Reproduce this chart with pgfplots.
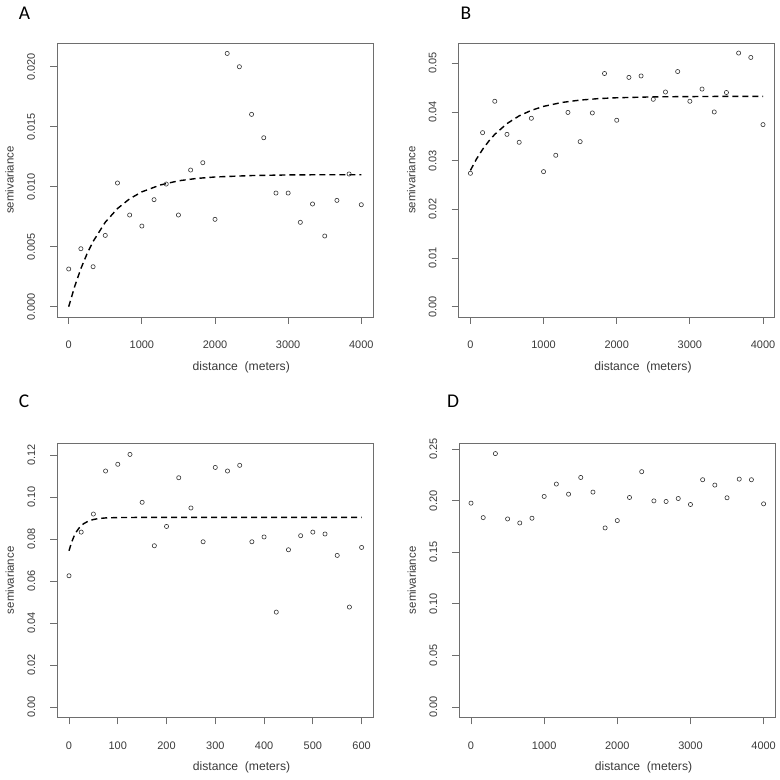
\documentclass[border=0pt]{standalone}
\usepackage{pgfplots}
\pgfplotsset{compat=1.18}
\usepackage{fontspec}
\setmainfont{Liberation Sans}
\newfontfamily\lettfont{Carlito}
\definecolor{framecol}{HTML}{6E6E6E}
\definecolor{txtcol}{HTML}{3A3A3A}
\definecolor{ptcol}{HTML}{333333}
\pgfplotsset{
  vario/.style={
    scale only axis, width=316bp, height=274bp, anchor=south west,
    axis line style={framecol, line width=0.8bp},
    tick style={framecol, line width=0.8bp},
    tick align=outside, major tick length=7bp,
    xtick pos=bottom, ytick pos=left,
    /pgf/number format/assume math mode=true,
    /pgf/number format/1000 sep={},
    tick label style={font=\fontsize{11}{13}\selectfont, text=txtcol},
    xticklabel style={anchor=center, yshift=-21bp},
    yticklabel style={anchor=center, xshift=-19bp, rotate=90},
    xlabel={distance\ \ (meters)},
    ylabel={semivariance},
    every axis x label/.style={at={(axis description cs:0.583,0)}, anchor=center, yshift=-50bp, font=\fontsize{12.2}{14}\selectfont, text=txtcol},
    every axis y label/.style={at={(axis description cs:0,0.5)}, xshift=-47.5bp, rotate=90, anchor=center, font=\fontsize{11.5}{14}\selectfont, text=txtcol},
    scaled ticks=false,
    clip=false,
  },
  ptsty/.style={only marks, mark=o, mark size=2.1bp, color=ptcol, mark options={line width=0.6bp}},
  fitsty/.style={no marks, black, line width=1.4bp, dash pattern=on 6bp off 4bp},
}
\begin{document}
\begin{tikzpicture}[x=1bp,y=1bp]
\useasboundingbox (0,0) rectangle (780,780);
% Panel A
\begin{axis}[vario, at={(57bp,463bp)},
  xmin=-160, xmax=4160, ymin=-0.00086, ymax=0.02198,
  xtick={0,1000,2000,3000,4000},
  ytick={0,0.005,0.010,0.015,0.020},
  yticklabel style={/pgf/number format/.cd, fixed, fixed zerofill, precision=3}]
\addplot[fitsty] coordinates {(0,0) (83,0.00171) (167,0.00318) (250,0.00440) (333,0.00543) (500,0.00704) (667,0.00818) (833,0.00899) (1000,0.00957) (1250,0.01014) (1500,0.01049) (1750,0.01069) (2000,0.01081) (2500,0.01093) (3000,0.01098) (3500,0.01100) (4000,0.01100)};
\addplot[ptsty] coordinates {(0,0.00314) (166.7,0.00483) (333.3,0.00333) (500,0.00594) (666.7,0.01031) (833.3,0.00764) (1000,0.00672) (1166.7,0.00892) (1333.3,0.01022) (1500,0.00764) (1666.7,0.01139) (1833.3,0.01200) (2000,0.00728) (2166.7,0.02111) (2333.3,0.02000) (2500,0.01603) (2666.7,0.01408) (2833.3,0.00947) (3000,0.00947) (3166.7,0.00703) (3333.3,0.00856) (3500,0.00589) (3666.7,0.00886) (3833.3,0.01106) (4000,0.00850)};
\end{axis}
% Panel B
\begin{axis}[vario, at={(458.7bp,463bp)},
  xmin=-160, xmax=4160, ymin=-0.00212, ymax=0.05417,
  xtick={0,1000,2000,3000,4000},
  ytick={0,0.01,0.02,0.03,0.04,0.05},
  yticklabel style={/pgf/number format/.cd, fixed, fixed zerofill, precision=2}]
\addplot[fitsty] coordinates {(0,0.02800) (83,0.03033) (167,0.03232) (250,0.03398) (333,0.03540) (500,0.03761) (667,0.03920) (833,0.04033) (1000,0.04115) (1250,0.04195) (1500,0.04244) (1750,0.04274) (2000,0.04292) (2500,0.04310) (3000,0.04316) (3500,0.04320) (4000,0.04320)};
\addplot[ptsty] coordinates {(0,0.0274) (166.7,0.03575) (333.3,0.0422) (500,0.0354) (666.7,0.03377) (833.3,0.0387) (1000,0.02774) (1166.7,0.0311) (1333.3,0.0399) (1500,0.0339) (1666.7,0.0398) (1833.3,0.0479) (2000,0.0383) (2166.7,0.0471) (2333.3,0.0474) (2500,0.0426) (2666.7,0.0441) (2833.3,0.0483) (3000,0.0422) (3166.7,0.0447) (3333.3,0.0400) (3500,0.0440) (3666.7,0.0521) (3833.3,0.0512) (4000,0.0374)};
\end{axis}
% Panel C
\begin{axis}[vario, at={(57.3bp,62.7bp)},
  xmin=-24, xmax=624, ymin=-0.0049, ymax=0.1256,
  xtick={0,100,200,300,400,500,600},
  ytick={0,0.02,0.04,0.06,0.08,0.10,0.12},
  yticklabel style={/pgf/number format/.cd, fixed, fixed zerofill, precision=2}]
\addplot[fitsty] coordinates {(0,0.0744) (5,0.07826) (10,0.08117) (15,0.08338) (20,0.08507) (25,0.08634) (30,0.08730) (40,0.08858) (50,0.08931) (60,0.08973) (75,0.09005) (100,0.09024) (150,0.0903) (600,0.0903)};
\addplot[ptsty] coordinates {(0,0.0625) (25,0.0833) (50,0.0919) (75,0.1124) (100,0.1156) (125,0.1203) (150,0.0975) (175,0.0768) (200,0.0860) (225,0.1092) (250,0.0948) (275,0.0787) (300,0.1141) (325,0.1124) (350,0.1151) (375,0.0787) (400,0.0810) (425,0.0452) (450,0.0749) (475,0.0816) (500,0.0833) (525,0.0824) (550,0.0722) (575,0.0476) (600,0.0760)};
\end{axis}
% Panel D
\begin{axis}[vario, at={(459.3bp,62.7bp)},
  xmin=-160, xmax=4160, ymin=-0.0100, ymax=0.2555,
  xtick={0,1000,2000,3000,4000},
  ytick={0,0.05,0.10,0.15,0.20,0.25},
  yticklabel style={/pgf/number format/.cd, fixed, fixed zerofill, precision=2}]
\addplot[ptsty] coordinates {(0,0.1975) (166.7,0.1835) (333.3,0.2455) (500,0.1822) (666.7,0.1783) (833.3,0.1829) (1000,0.2040) (1166.7,0.2160) (1333.3,0.2062) (1500,0.2224) (1666.7,0.2082) (1833.3,0.1735) (2000,0.1806) (2166.7,0.2030) (2333.3,0.2280) (2500,0.1997) (2666.7,0.1991) (2833.3,0.2020) (3000,0.1962) (3166.7,0.2202) (3333.3,0.2150) (3500,0.2027) (3666.7,0.2208) (3833.3,0.2202) (4000,0.1968)};
\end{axis}
% Panel letters
\node[font=\lettfont\fontsize{19.5}{22}\selectfont, anchor=center] at (24.5,767) {A};
\node[font=\lettfont\fontsize{19.5}{22}\selectfont, anchor=center] at (466,767) {B};
\node[font=\lettfont\fontsize{19.5}{22}\selectfont, anchor=center] at (24,378.3) {C};
\node[font=\lettfont\fontsize{19.5}{22}\selectfont, anchor=center] at (453,378.3) {D};
\end{tikzpicture}
\end{document}
